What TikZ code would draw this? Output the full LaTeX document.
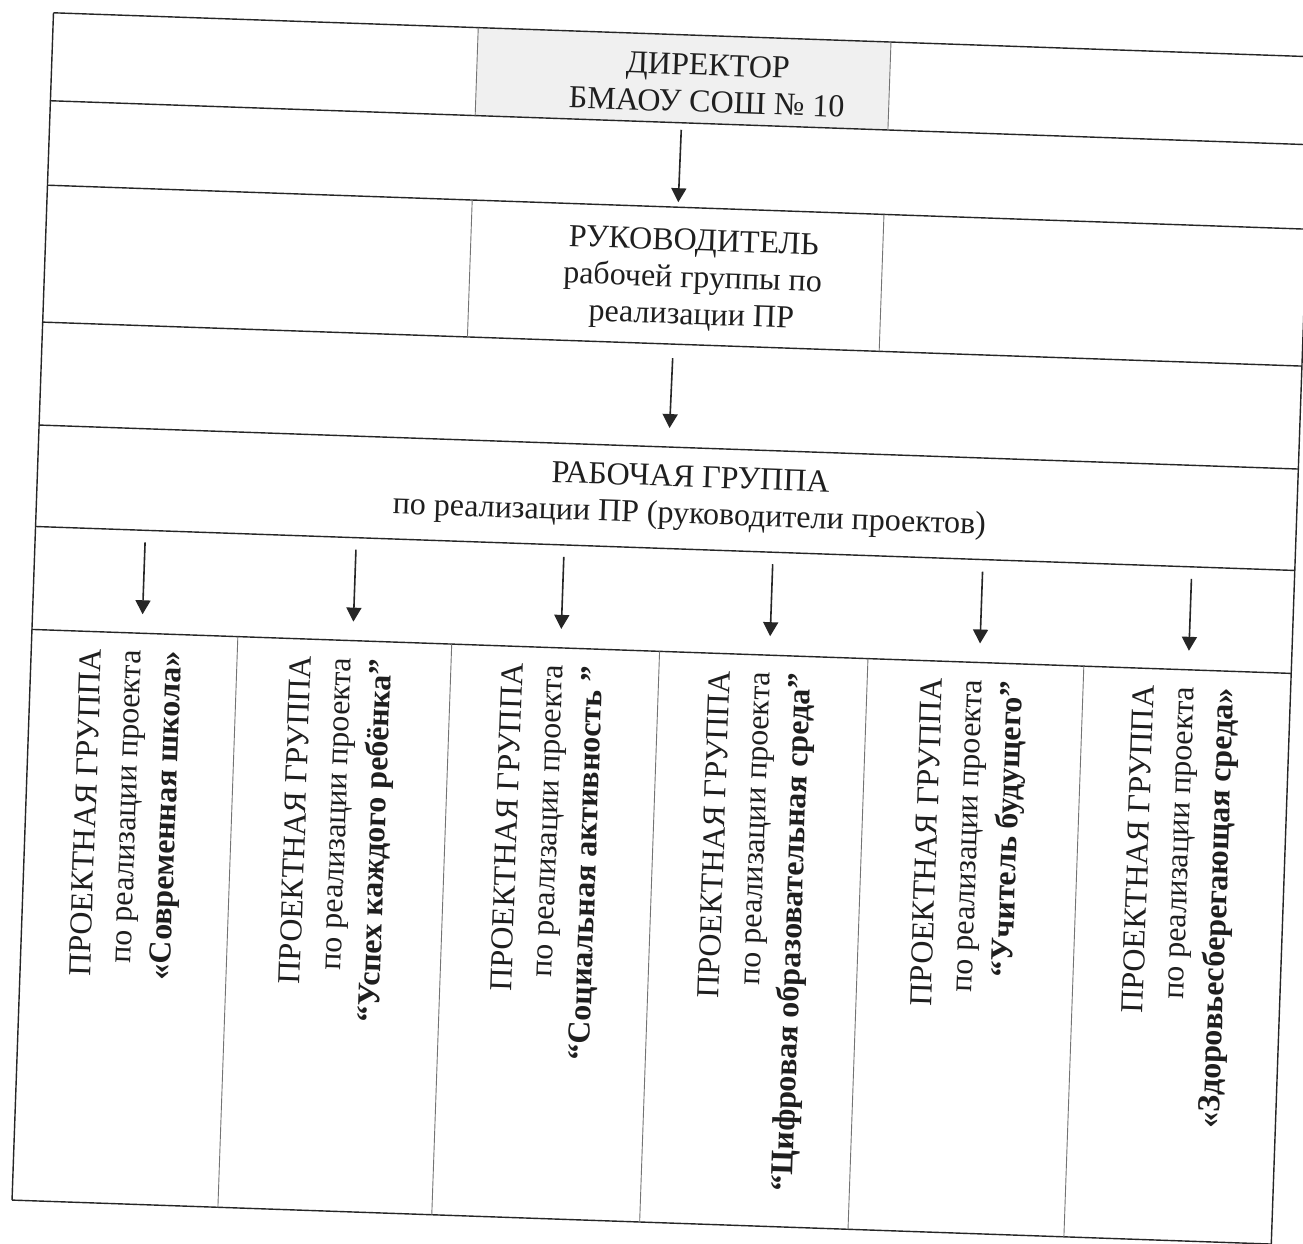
\documentclass[tikz,border=0pt]{standalone}
\usepackage{fontspec}
\setmainfont{Liberation Serif}
\usetikzlibrary{arrows.meta}
\begin{document}
\begin{tikzpicture}[x=1pt,y=-1pt,
  hline/.style={line width=1.4pt, draw=black!85},
  vline/.style={line width=0.9pt, draw=black!55},
  arr/.style={line width=1.6pt, draw=black!85, -{Triangle[length=14pt,width=15pt]}},
  cell/.style={rectangle, draw=none, inner sep=0pt, outer sep=0pt},
  txt/.style={font=\fontsize{32}{37}\selectfont, align=center, inner sep=0pt, text=black!88},
  vtxt/.style={font=\fontsize{32}{40}\selectfont, align=right, inner sep=0pt, rotate=90, anchor=east, text=black!88}
]
\clip (0,0) rectangle (1303,1243);
\fill[white] (0,0) rectangle (1303,1243);
\begin{scope}[rotate around={-2:(10,1201)}, every node/.append style={transform shape}]
  % cells
  \node[cell, fill=black!6, minimum width=413pt, minimum height=88pt] (dircell) at (643.5,56) {};
  \node[cell, minimum width=412pt, minimum height=137pt] (rukcell) at (643,253) {};
  \node[cell, minimum width=1260pt, minimum height=101.5pt] (rabcell) at (642,475.25) {};
  \node[cell, minimum width=206pt, minimum height=571pt] (c1) at (115,914.5) {};
  \node[cell, minimum width=214pt, minimum height=571pt] (c2) at (325,914.5) {};
  \node[cell, minimum width=208pt, minimum height=571pt] (c3) at (536,914.5) {};
  \node[cell, minimum width=208.5pt, minimum height=571pt] (c4) at (744.25,914.5) {};
  \node[cell, minimum width=216pt, minimum height=571pt] (c5) at (956.5,914.5) {};
  \node[cell, minimum width=207.5pt, minimum height=571pt] (c6) at (1168.25,914.5) {};

  % horizontal rules and outer frame
  \draw[hline] (12,12) -- (1272,12);
  \draw[hline] (12,100) -- (1272,100);
  \draw[hline] (12,184.5) -- (1272,184.5);
  \draw[hline] (12,321.5) -- (1272,321.5);
  \draw[hline] (12,424.5) -- (1272,424.5);
  \draw[hline] (12,526) -- (1272,526);
  \draw[hline] (12,629) -- (1272,629);
  \draw[hline] (12,1200) -- (1272,1200);
  \draw[hline] (12,12) -- (12,1200);
  \draw[hline] (1272,12) -- (1272,1200);

  % vertical dividers
  \draw[vline] (dircell.north west) -- (dircell.south west);
  \draw[vline] (dircell.north east) -- (dircell.south east);
  \draw[vline] (rukcell.north west) -- (rukcell.south west);
  \draw[vline] (rukcell.north east) -- (rukcell.south east);
  \draw[vline] (c1.north east) -- (c1.south east);
  \draw[vline] (c2.north east) -- (c2.south east);
  \draw[vline] (c3.north east) -- (c3.south east);
  \draw[vline] (c4.north east) -- (c4.south east);
  \draw[vline] (c5.north east) -- (c5.south east);

  % texts
  \node[txt] (dirtxt) at (668,60) {ДИРЕКТОР\\БМАОУ СОШ № 10};
  \node[txt] (ruktxt) at (660,257) {РУКОВОДИТЕЛЬ\\рабочей группы по\\реализации ПР};
  \node[txt] (rabtxt) at (665,475) {РАБОЧАЯ ГРУППА\\по реализации ПР (руководители проектов)};

  \node[vtxt] (t1) at (115,646) {ПРОЕКТНАЯ ГРУППА\\по реализации проекта\\\textbf{«Современная школа»}};
  \node[vtxt] (t2) at (325,646) {ПРОЕКТНАЯ ГРУППА\\по реализации проекта\\\textbf{“Успех каждого ребёнка”}};
  \node[vtxt] (t3) at (536,646) {ПРОЕКТНАЯ ГРУППА\\по реализации проекта\\\textbf{“Социальная активность ”}};
  \node[vtxt] (t4) at (744.25,646) {ПРОЕКТНАЯ ГРУППА\\по реализации проекта\\\textbf{“Цифровая образовательная среда”}};
  \node[vtxt] (t5) at (956.5,646) {ПРОЕКТНАЯ ГРУППА\\по реализации проекта\\\textbf{“Учитель будущего”}};
  \node[vtxt] (t6) at (1168.25,646) {ПРОЕКТНАЯ ГРУППА\\по реализации проекта\\\textbf{«Здоровьесберегающая среда»}};

  % arrow end points
  \coordinate (o1) at (122,526);  \coordinate (i1) at (122,629);
  \coordinate (o2) at (333,526);  \coordinate (i2) at (333,629);
  \coordinate (o3) at (541,526);  \coordinate (i3) at (541,629);
  \coordinate (o4) at (750,526);  \coordinate (i4) at (750,629);
  \coordinate (o5) at (960,526);  \coordinate (i5) at (960,629);
  \coordinate (o6) at (1169,526); \coordinate (i6) at (1169,629);

  % arrows
  \draw[arr, shorten <=7pt, shorten >=5pt] (dircell.south) -- (rukcell.north);
  \draw[arr, shorten <=14pt, shorten >=19pt] (rukcell.south) -- (rabcell.north);
  \foreach \k in {1,...,6}{
    \draw[arr, shorten <=12pt, shorten >=19pt] (o\k) -- (i\k);
  }
\end{scope}
\end{tikzpicture}
\end{document}
